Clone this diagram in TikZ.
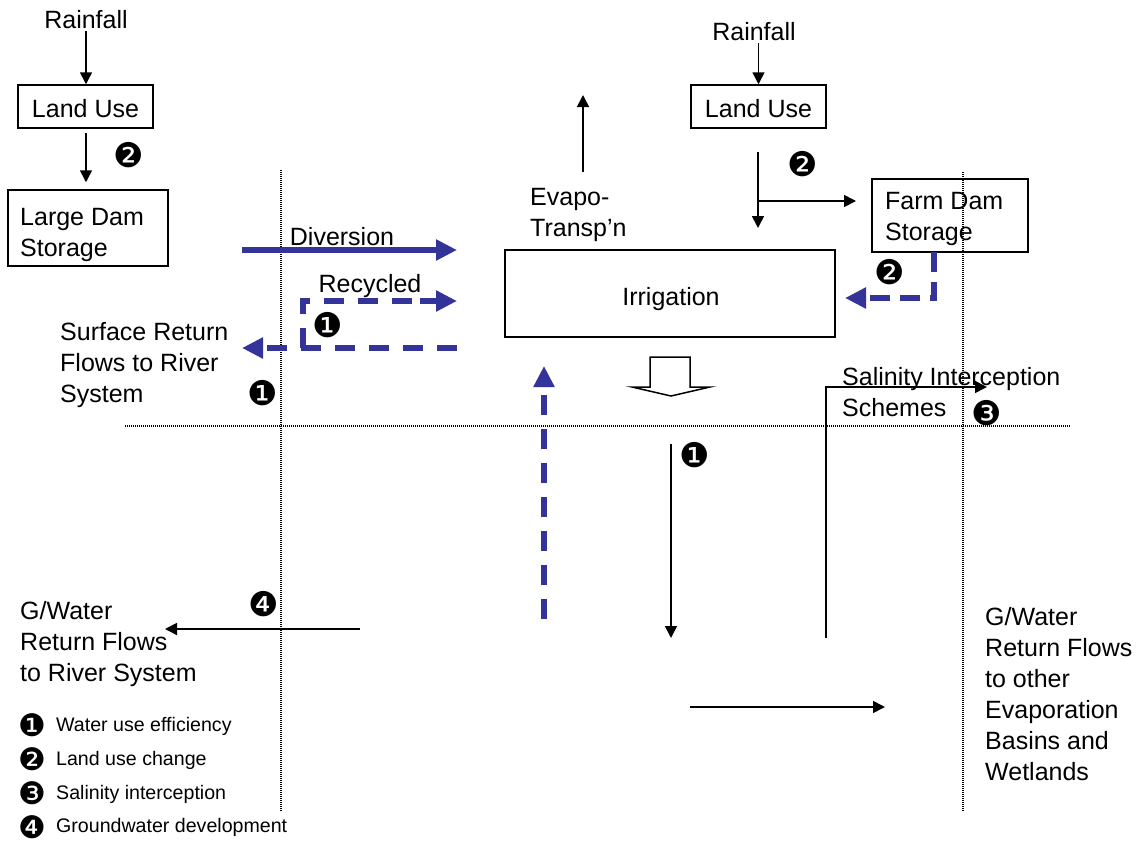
\documentclass[tikz,border=0pt]{standalone}
\usepackage{fontspec}
\setmainfont{Liberation Sans}
\newfontfamily\dvfont{DejaVu Sans}
\usetikzlibrary{arrows.meta}
\definecolor{myblue}{RGB}{51,51,153}
\tikzset{
  txt/.style={inner sep=0pt, font=\fontsize{25}{31}\selectfont},
  lgd/.style={inner sep=0pt, anchor=west, font=\fontsize{19.6}{23}\selectfont},
  num/.style={inner sep=0pt, font=\dvfont\fontsize{34}{34}\selectfont},
  lnum/.style={inner sep=0pt, font=\dvfont\fontsize{31}{31}\selectfont},
  box/.style={draw, line width=1.5pt, inner sep=0pt},
  arr/.style={line width=1.6pt, -{Triangle[length=12pt,width=12pt]}},
  barr/.style={draw=myblue, line width=5.5pt, -{Triangle[length=21pt,width=20pt]}},
  dbarr/.style={barr, dash pattern=on 20pt off 14pt},
  dotline/.style={line width=1.3pt, dash pattern=on 1pt off 1pt},
}
\begin{document}
\begin{tikzpicture}[x=1pt,y=-1pt]
\useasboundingbox (0,0) rectangle (1136,844);

% dotted grid lines
\draw[dotline] (281,170) -- (281,812);
\draw[dotline] (963,172) -- (963,812);
\draw[dotline] (125,426) -- (1070,426);

% left column
\node[txt] (rain1) at (86,20) {Rainfall};
\node[box, minimum width=135pt, minimum height=43pt] (lu1) at (85.5,106.5) {};
\node[txt] (lu1t) at (85.5,109) {Land Use};
\node[box, minimum width=160pt, minimum height=76pt] (ld) at (88,228) {};
\node[txt, anchor=west, align=left] (ldt) at (20,235) {Large Dam\\Storage};
\draw[arr, shorten <=2pt] (rain1.south) -- (rain1.south |- lu1.north);
\draw[arr, shorten <=4pt, shorten >=7pt] (lu1.south -| rain1.south) -- (ld.north -| rain1.south);
\node[num] (n2a) at (129,155) {❷};

% irrigation
\node[box, minimum width=330pt, minimum height=87pt] (irr) at (670,293.5) {};
\node[txt] (irrt) at (671,299) {Irrigation};

% diversion
\coordinate (dv0) at (242,250);
\coordinate (dv1) at (457,250);
\draw[barr] (dv0) -- (dv1);
\node[txt] (divl) at (342,237) {Diversion};

% recycled
\coordinate (rc0) at (457,348);
\coordinate (rcc) at (303,348);
\coordinate (rc1) at (457,301);
\coordinate (sr1) at (242,348);
\draw[dbarr] (rc0) -- (sr1);
\draw[dbarr, -] (rcc) -- (303,301) -- (420,301);
\draw[dbarr, dash pattern=on 20pt off 0pt] (420,301) -- (rc1);
\node[txt] (recl) at (370,286) {Recycled};
\node[num] (n1a) at (328,325) {❶};

\node[txt, anchor=west, align=left] (sret) at (60,365) {Surface Return\\Flows to River\\System};
\node[num] (n1b) at (263,393) {❶};

% evapotranspiration
\node[txt, anchor=west, align=left] (evap) at (530,215) {Evapo-\\Transp'n};
\coordinate (et0) at (583,172);
\coordinate (et1) at (583,95);
\draw[arr] (et0) -- (et1);

% right column
\node[txt] (rain2) at (754,32) {Rainfall};
\node[box, minimum width=135pt, minimum height=43pt] (lu2) at (758.5,106.5) {};
\node[txt] (lu2t) at (758.5,109) {Land Use};
\draw[arr, shorten <=2pt] (lu2.north |- rain2.south) -- (lu2.north);
\coordinate (ld0) at (758,152);
\coordinate (ld1) at (758,228);
\draw[arr] (ld0) -- (ld1);
\coordinate (br0) at (758,201);
\node[box, minimum width=156pt, minimum height=73pt] (fd) at (950,215.5) {};
\node[txt, anchor=west, align=left] (fdt) at (885,219) {Farm Dam\\Storage};
\coordinate (br1) at (856,201);
\draw[arr] (br0) -- (br1);
\node[num] (n2b) at (803,164) {❷};

\coordinate (fd0) at (934,252);
\coordinate (fd1) at (845,298);
\draw[dbarr, dash pattern=on 20pt off 10pt] (fd0) |- (fd1);
\node[num] (n2c) at (890,272) {❷};

% block arrow below irrigation
\draw[line width=1.5pt, fill=white] (650,357) -- (690,357) -- (690,387) -- (710,387) -- (671,396) -- (632,387) -- (650,387) -- cycle;

% upward blue dashed
\coordinate (up0) at (544,619);
\coordinate (up1) at (544,366);
\draw[dbarr] (up0) -- (up1);

% downward drainage
\coordinate (dn0) at (671,444);
\coordinate (dn1) at (671,638);
\draw[arr] (dn0) -- (dn1);
\node[num] (n1c) at (695,455) {❶};

% salinity interception
\coordinate (sa0) at (826,638);
\coordinate (sa1) at (987,387);
\draw[arr] (sa0) |- (sa1);
\node[txt, anchor=west, align=left] (sal) at (842,392) {Salinity Interception\\Schemes};
\node[num] (n3) at (987,413) {❸};

% groundwater left
\coordinate (gw0) at (360,629);
\coordinate (gw1) at (165,629);
\draw[arr] (gw0) -- (gw1);
\node[num] (n4) at (264,604) {❹};
\node[txt, anchor=west, align=left] (gwl) at (20,644) {G/Water\\Return Flows\\to River System};

% groundwater right
\coordinate (ev0) at (690,707);
\coordinate (ev1) at (885,707);
\draw[arr] (ev0) -- (ev1);
\node[txt, anchor=west, align=left] (gwr) at (985,694) {G/Water\\Return Flows\\to other\\Evaporation\\Basins and\\Wetlands};

% legend
\node[lnum] (l1) at (32,725) {❶};
\node[lgd] (t1) at (56,726) {Water use efficiency};
\node[lnum] (l2) at (32,759) {❷};
\node[lgd] (t2) at (56,760) {Land use change};
\node[lnum] (l3) at (32,793) {❸};
\node[lgd] (t3) at (56,794) {Salinity interception};
\node[lnum] (l4) at (32,827) {❹};
\node[lgd] (t4) at (56,827) {Groundwater development};
\end{tikzpicture}
\end{document}
